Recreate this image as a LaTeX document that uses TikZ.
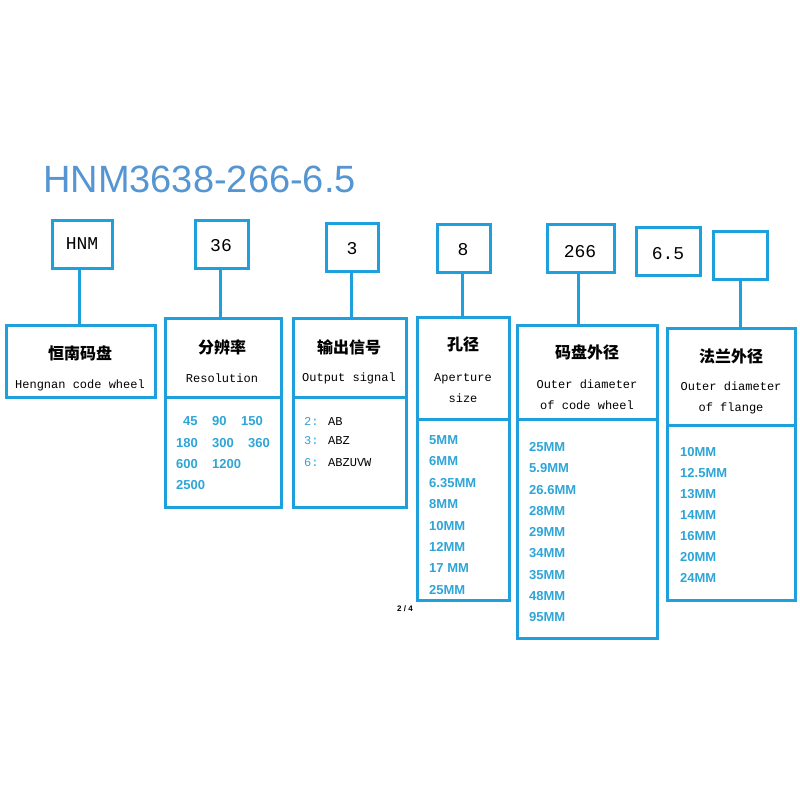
\documentclass[tikz,border=0pt]{standalone}
\usepackage{fontspec}
\setmainfont{Liberation Serif}
\newfontfamily\cjk{Noto Sans CJK SC}
\newfontfamily\mono{Liberation Mono}
\newfontfamily\sans{Liberation Sans}
\definecolor{bx}{RGB}{30,160,220}
\definecolor{vt}{RGB}{45,165,215}
\definecolor{tt}{RGB}{85,150,210}
\begin{document}
\begin{tikzpicture}[x=1pt,y=-1pt,
  box/.style={draw=bx,line width=3pt},
  cn/.style={font=\cjk\bfseries\fontsize{16}{18}\selectfont},
  en/.style={font=\mono\fontsize{12}{21}\selectfont,align=center},
  code/.style={font=\mono\fontsize{18}{20}\selectfont},
  val/.style={font=\sans\bfseries\fontsize{13}{15}\selectfont,text=vt,anchor=west,inner sep=0},
  ln/.style={draw=bx,line width=3pt}]
\useasboundingbox (0,0) rectangle (800,800);
\node[font=\sans\fontsize{38}{40}\selectfont,text=tt,anchor=west,inner sep=0] (title) at (43,179) {HNM3638-266-6.5};
% top code boxes
\draw[box] (52,220) rectangle (112,268); \node[code] (c1) at (82,244) {HNM};
\draw[box] (195,220) rectangle (248,268); \node[code] (c2) at (221,246) {36};
\draw[box] (326,223) rectangle (378,271); \node[code] (c3) at (352,249) {3};
\draw[box] (437,224) rectangle (490,272); \node[code] (c4) at (463,250) {8};
\draw[box] (547,224) rectangle (614,272); \node[code] (c5) at (580,252) {266};
\draw[box] (636,227) rectangle (700,275); \node[code] (c6) at (668,254) {6.5};
\draw[box] (713,231) rectangle (767,279);
% connectors
\draw[ln] (79,268) -- (79,325);
\draw[ln] (220,268) -- (220,318);
\draw[ln] (351,271) -- (351,318);
\draw[ln] (462,272) -- (462,317);
\draw[ln] (578,272) -- (578,325);
\draw[ln] (740,279) -- (740,328);
% bottom boxes
\draw[box] (6,325) rectangle (155,397);
\node[cn] (h1) at (80,353) {恒南码盘};
\node[en] (e1) at (80,385) {Hengnan code wheel};
\draw[box] (165,318) rectangle (281,507); \draw[box] (165,397) -- (281,397);
\node[cn] (h2) at (222,347) {分辨率};
\node[en] (e2) at (222,378) {Resolution};
\node[val] at (183,421) {45}; \node[val] at (212,421) {90}; \node[val] at (241,421) {150};
\node[val] at (176,443) {180}; \node[val] at (212,443) {300}; \node[val] at (248,443) {360};
\node[val] at (176,464) {600}; \node[val] at (212,464) {1200};
\node[val] at (176,485) {2500};
\draw[box] (293,318) rectangle (406,507); \draw[box] (293,397) -- (406,397);
\node[cn] (h3) at (349,347) {输出信号};
\node[en] (e3) at (349,378) {Output signal};
\node[val,font=\mono\fontsize{12}{14}\selectfont,text=black] at (304,421) {\textcolor{vt}{2:} AB};
\node[val,font=\mono\fontsize{12}{14}\selectfont,text=black] at (304,441) {\textcolor{vt}{3:} ABZ};
\node[val,font=\mono\fontsize{12}{14}\selectfont,text=black] at (304,463) {\textcolor{vt}{6:} ABZUVW};
\draw[box] (417,317) rectangle (509,600); \draw[box] (417,419) -- (509,419);
\node[cn] (h4) at (463,344) {孔径};
\node[en] (e4) at (463,388) {Aperture\\size};
\foreach \t [count=\i from 0] in {5MM,6MM,6.35MM,8MM,10MM,12MM,17 MM,25MM}
  \node[val] at (429,440+21.4*\i) {\t};
\draw[box] (517,325) rectangle (657,638); \draw[box] (517,419) -- (657,419);
\node[cn] (h5) at (587,352) {码盘外径};
\node[en] (e5) at (587,395) {Outer diameter\\of code wheel};
\foreach \t [count=\i from 0] in {25MM,5.9MM,26.6MM,28MM,29MM,34MM,35MM,48MM,95MM}
  \node[val] at (529,447+21.3*\i) {\t};
\draw[box] (667,328) rectangle (795,600); \draw[box] (667,425) -- (795,425);
\node[cn] (h6) at (731,356) {法兰外径};
\node[en] (e6) at (731,398) {Outer diameter\\of flange};
\foreach \t [count=\i from 0] in {10MM,12.5MM,13MM,14MM,16MM,20MM,24MM}
  \node[val] at (680,452+21*\i) {\t};
\node[font=\sans\bfseries\fontsize{8}{9}\selectfont] (pg) at (405,609) {2 / 4};
\end{tikzpicture}
\end{document}
